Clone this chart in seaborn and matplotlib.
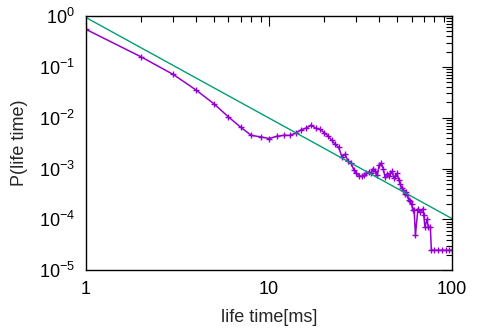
import numpy as np
import pandas as pd
import matplotlib
matplotlib.use("Agg")
import matplotlib.pyplot as plt
import seaborn as sns
from matplotlib.ticker import LogLocator, FixedLocator, NullFormatter, FixedFormatter

# ---- data ----
life_ms = [1, 2, 3, 4, 5, 6, 7, 8, 9, 10,
           11, 12, 13, 14, 15, 16, 17, 18, 19, 20,
           21, 22, 23, 24, 25, 26, 27, 28, 29, 30,
           31, 32, 33, 34, 35, 36, 37, 38, 39, 40,
           41, 42, 43, 44, 45, 46, 47, 48, 49, 50,
           51, 52, 53, 54, 55, 56, 57, 58, 59, 60,
           61, 62, 63, 65, 67, 69, 70, 71, 73, 74,
           76, 77, 80, 84, 88, 92, 96, 100]
prob = [0.55, 0.158, 0.071, 0.035, 0.0188, 0.0104, 0.0065, 0.0045, 0.0042, 0.0039,
        0.0043, 0.0045, 0.0045, 0.0050, 0.0058, 0.0063, 0.0071, 0.0062, 0.0059, 0.0051,
        0.0044, 0.0036, 0.0030, 0.0026, 0.0017, 0.0019, 0.0014, 0.0013, 0.00095, 0.00080,
        0.00072, 0.00070, 0.00074, 0.00082, 0.00086, 0.00082, 0.00100, 0.00090, 0.00074, 0.00118,
        0.00126, 0.00100, 0.00068, 0.00078, 0.00072, 0.00080, 0.00088, 0.00066, 0.00070, 0.00080,
        0.00060, 0.00050, 0.00042, 0.00038, 0.00032, 0.00034, 0.00030, 0.00024, 0.00023, 0.00020,
        0.00015, 0.00015, 4.9e-5, 0.00016, 0.00014, 0.00016, 0.00012, 7.1e-5, 1.0e-4, 7.1e-5,
        7.1e-5, 2.46e-5, 2.46e-5, 2.46e-5, 2.46e-5, 2.46e-5, 2.46e-5, 2.46e-5]

fit_a = 0.94
fit_b = -1.98
fit_x = [1, 100]

x_ticks = [1, 10, 100]
x_tick_labels = ["1", "10", "100"]
y_ticks = [1e-5, 1e-4, 1e-3, 1e-2, 1e-1, 1e0]
y_tick_labels = [r"$\mathdefault{10^{-5}}$", r"$\mathdefault{10^{-4}}$", r"$\mathdefault{10^{-3}}$",
                 r"$\mathdefault{10^{-2}}$", r"$\mathdefault{10^{-1}}$", r"$\mathdefault{10^{0}}$"]

sns.set_style("white")
plt.rcParams["font.family"] = ["Liberation Sans", "DejaVu Sans"]
plt.rcParams["mathtext.fontset"] = "custom"
plt.rcParams["mathtext.rm"] = "Liberation Sans"
plt.rcParams["mathtext.it"] = "Liberation Sans"

fig = plt.figure(figsize=(4.8, 3.36), dpi=100)
ax = fig.add_axes([0.179, 0.196, 0.763, 0.756])

df = pd.DataFrame({"t": life_ms, "p": prob})
sns.lineplot(data=df, x="t", y="p", ax=ax, color="#9400D3", lw=1.1,
             marker="+", markersize=4.5, markeredgewidth=1.0, markeredgecolor="#9400D3")

fx = np.geomspace(fit_x[0], fit_x[1], 50)
fit_df = pd.DataFrame({"t": fx, "p": fit_a * fx ** fit_b})
sns.lineplot(data=fit_df, x="t", y="p", ax=ax, color="#009E73", lw=1.0)

ax.set_xscale("log")
ax.set_yscale("log")
ax.set_xlim(1, 100)
ax.set_ylim(1e-5, 1)

ax.xaxis.set_major_locator(FixedLocator(x_ticks))
ax.xaxis.set_major_formatter(FixedFormatter(x_tick_labels))
ax.yaxis.set_major_locator(FixedLocator(y_ticks))
ax.yaxis.set_major_formatter(FixedFormatter(y_tick_labels))
ax.xaxis.set_minor_locator(LogLocator(base=10, subs=np.arange(2, 10)))
ax.yaxis.set_minor_locator(LogLocator(base=10, subs=np.arange(2, 10)))
ax.xaxis.set_minor_formatter(NullFormatter())
ax.yaxis.set_minor_formatter(NullFormatter())

ax.tick_params(which="both", direction="in", top=True, right=True, colors="black",
               labelsize=13, width=0.8)
ax.tick_params(which="major", length=7, pad=8)
ax.tick_params(which="minor", length=4)
for s in ax.spines.values():
    s.set_color("black")
    s.set_linewidth(1.0)

ax.set_xlabel("life time[ms]", fontsize=13, labelpad=8)
ax.set_ylabel("P(life time)", fontsize=13, labelpad=8)

fig.savefig("out.png", dpi=100)
